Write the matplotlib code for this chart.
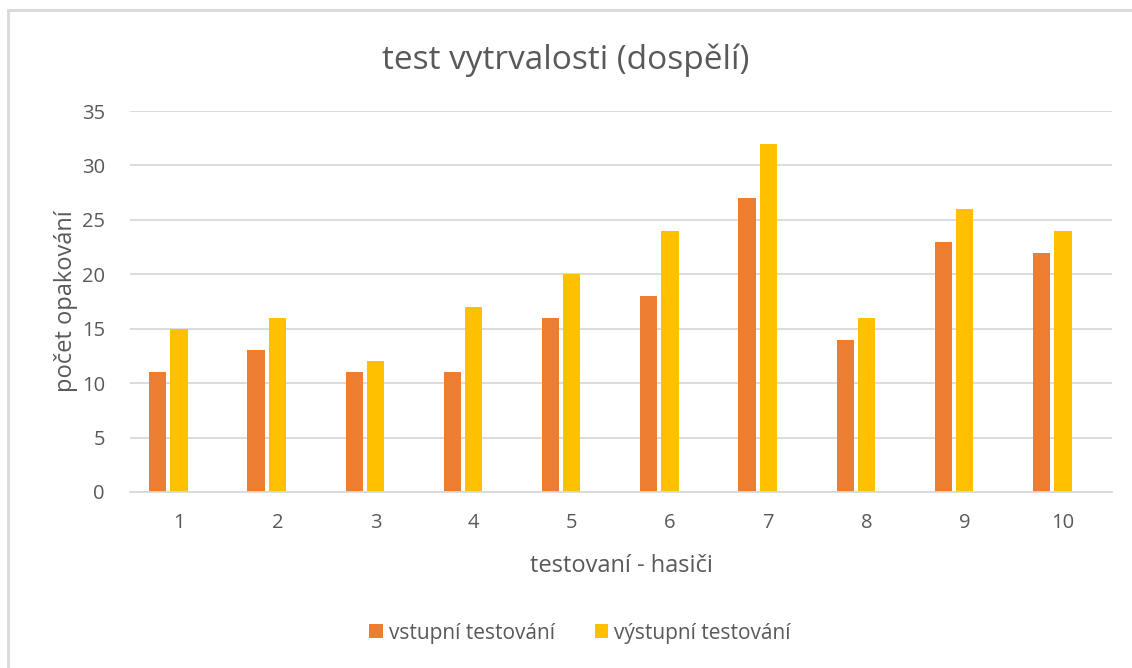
import matplotlib.pyplot as plt
import numpy as np
from matplotlib.patches import Rectangle

# data
testovani = ["1", "2", "3", "4", "5", "6", "7", "8", "9", "10"]
vstupni = [11, 13, 11, 11, 16, 18, 27, 14, 23, 22]
vystupni = [15, 16, 12, 17, 20, 24, 32, 16, 26, 24]

text_color = "#595959"
grid_color = "#D9D9D9"

plt.rcParams["font.family"] = ["Open Sans", "DejaVu Sans"]

fig = plt.figure(figsize=(11.32, 6.68), dpi=100)
ax = fig.add_axes([0.1148, 0.2635, 0.8675, 0.5703])

# chart area frame
fig.patches.append(Rectangle((8 / 1132, -0.1), 1.2, 1 - 10 / 668 + 0.1,
                             transform=fig.transFigure, fill=False,
                             edgecolor=grid_color, linewidth=2))

x = np.arange(1, len(testovani) + 1)
w = 0.176
step = 0.217
ax.bar(x - step, vstupni, w, color="#ED7D31", label="vstupní testování")
ax.bar(x, vystupni, w, color="#FFC000", label="výstupní testování")

ax.set_xlim(0.5, len(testovani) + 0.5)
ax.set_ylim(0, 35)
ax.set_yticks(range(0, 36, 5))
ax.set_xticks(x)
ax.set_xticklabels(testovani)
ax.yaxis.grid(True, color=grid_color, linewidth=1.3)
ax.set_axisbelow(True)
for side in ["top", "right", "left"]:
    ax.spines[side].set_visible(False)
ax.spines["bottom"].set_color(grid_color)
ax.spines["bottom"].set_linewidth(1.3)
ax.tick_params(length=0, labelsize=14.5, colors=text_color, pad=18)
ax.tick_params(axis="x", pad=15)

ax.set_xlabel("testovaní - hasiči", fontsize=17, color=text_color, labelpad=15)
ax.set_ylabel("počet opakování", fontsize=17, color=text_color, labelpad=3)
fig.text(0.5, 1 - 60 / 668, "test vytrvalosti (dospělí)", ha="center",
         va="center", fontsize=24, color=text_color)

fig.legend(loc="center", bbox_to_anchor=(580 / 1132, 1 - 633 / 668), ncol=2,
           frameon=False, fontsize=15, labelcolor=text_color,
           handlelength=0.65, handleheight=0.65, handletextpad=0.3,
           columnspacing=1.9)

fig.savefig("out.png", dpi=100)
